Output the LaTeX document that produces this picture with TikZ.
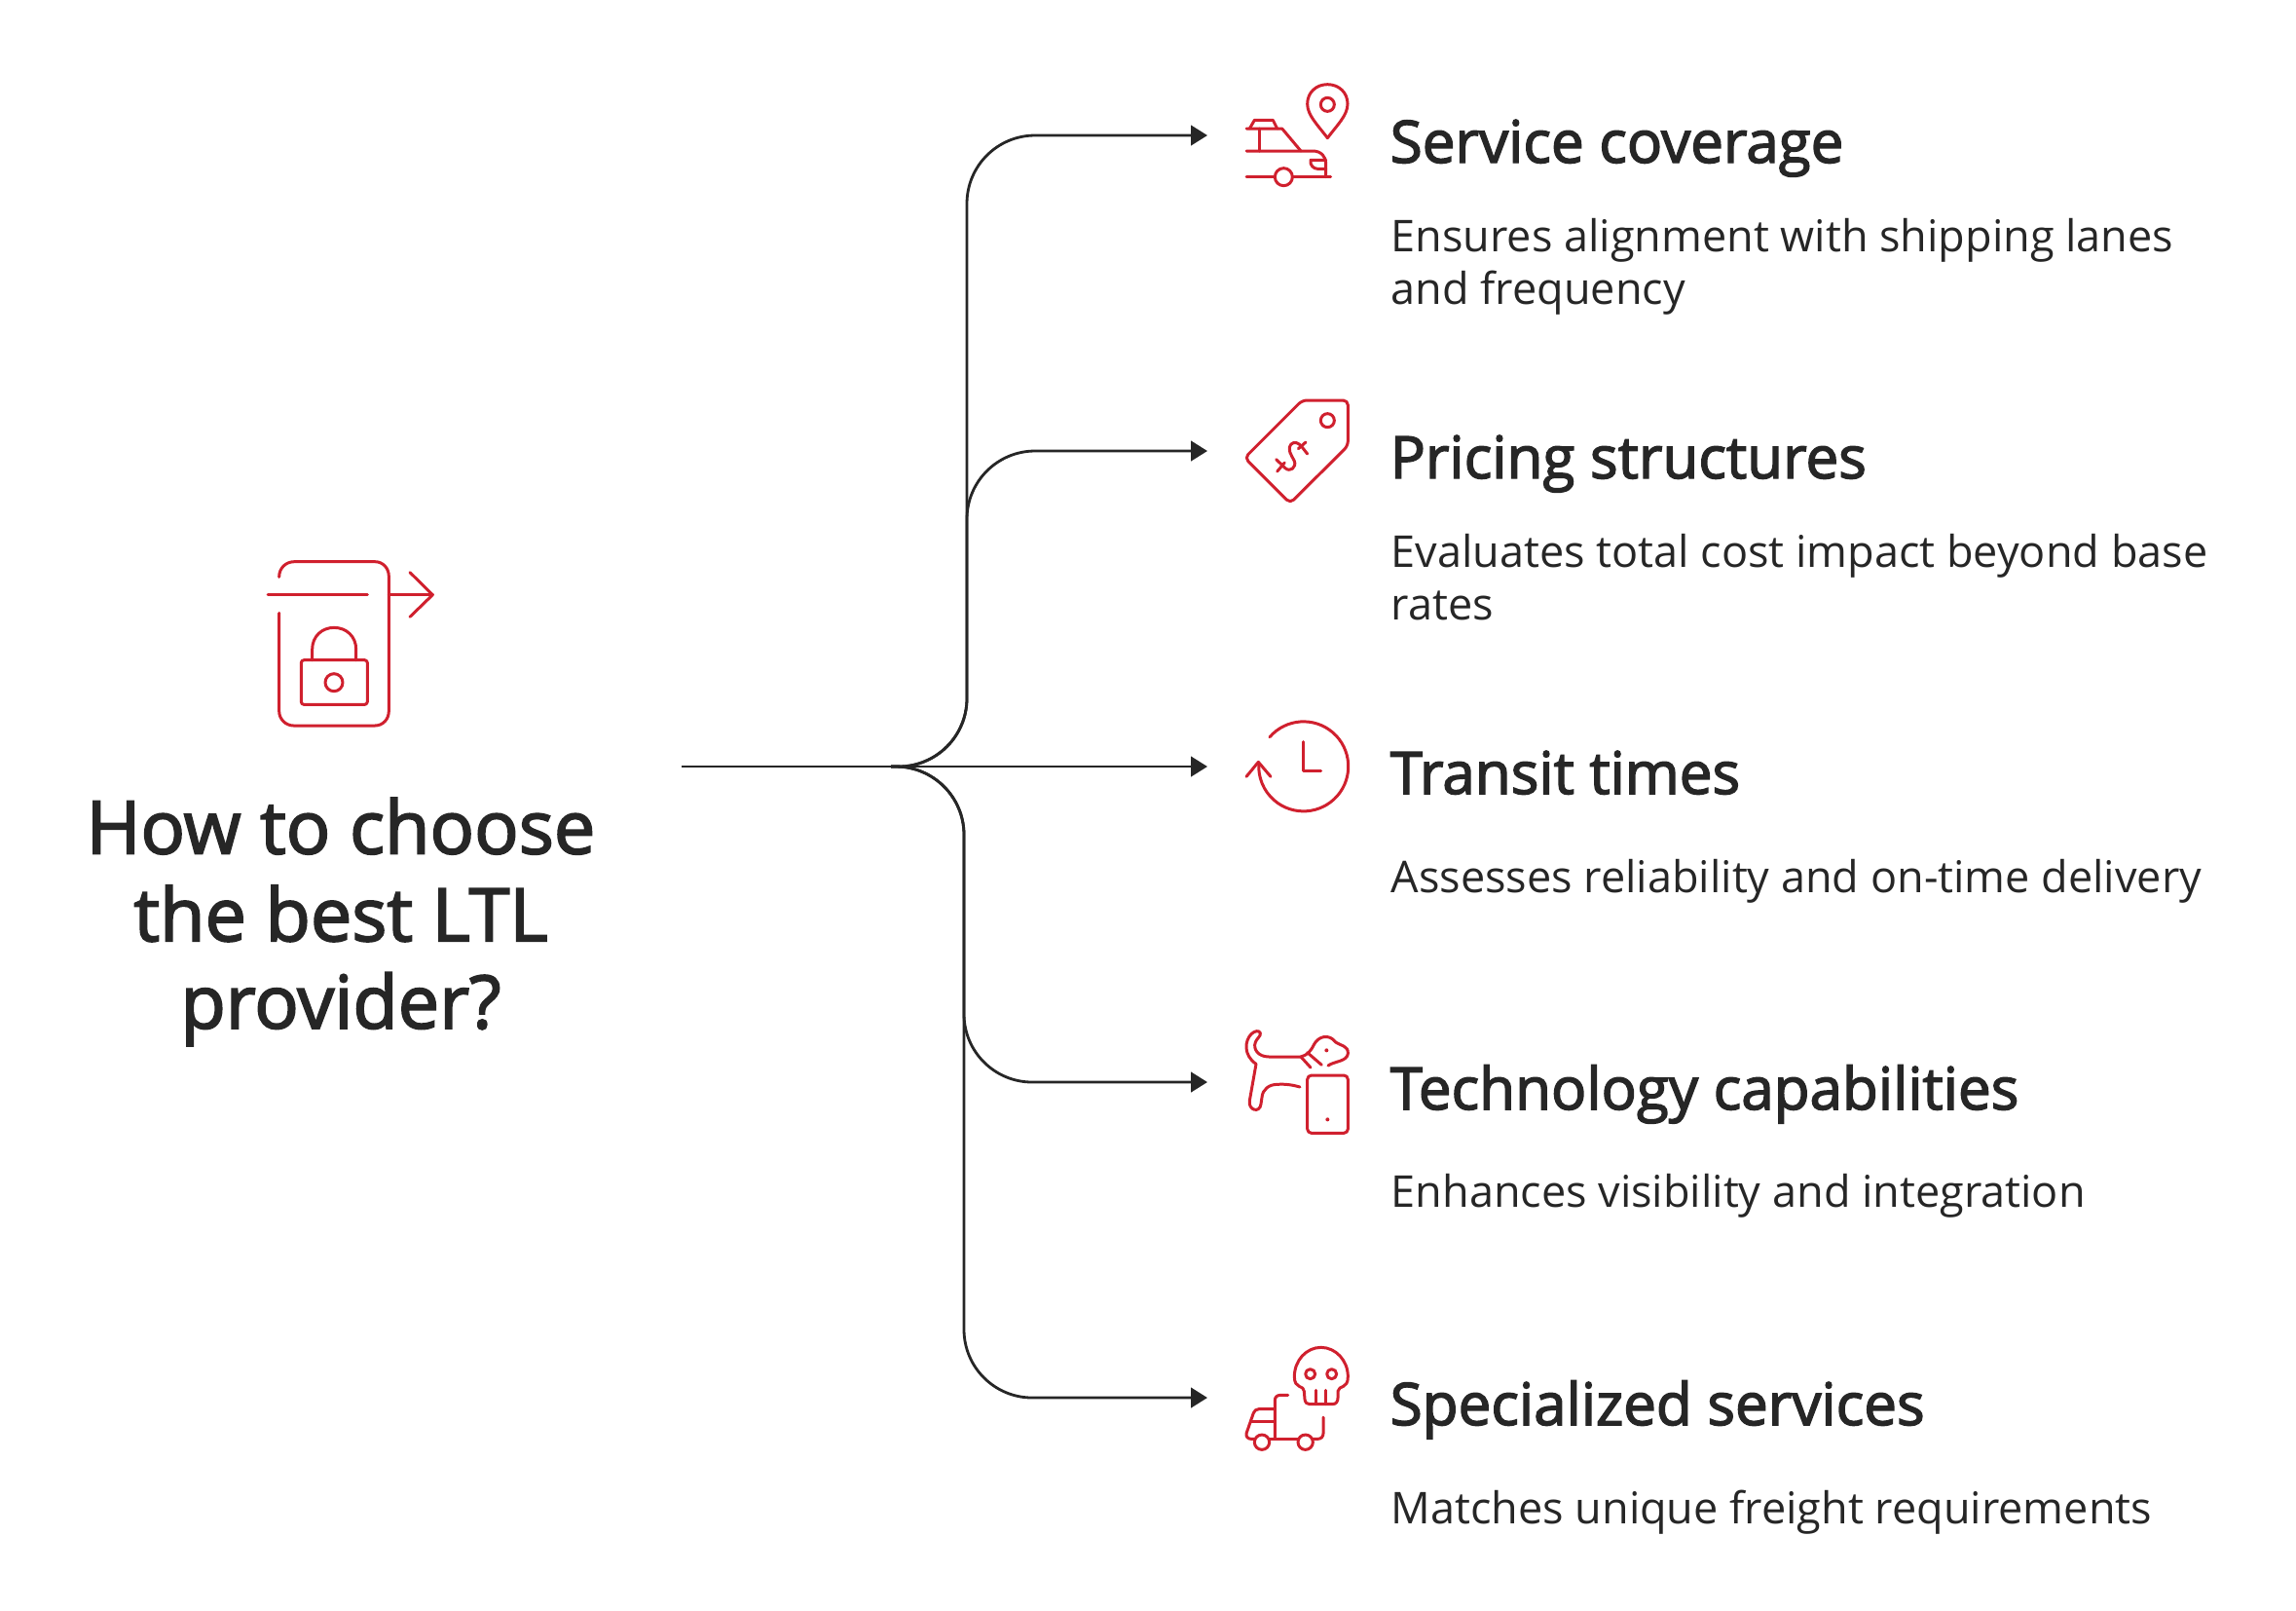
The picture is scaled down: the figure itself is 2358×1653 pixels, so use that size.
\documentclass[tikz,border=0pt]{standalone}
\usepackage{xcolor}
\usepackage{fontspec}
\setmainfont{Open Sans}
\newfontfamily\semifont[FakeBold=2.4]{Open Sans}
\usetikzlibrary{arrows.meta}
\definecolor{iconred}{HTML}{D0202E}
\definecolor{inkdark}{HTML}{262626}
\tikzset{
  link/.style={draw=inkdark, line width=0.8pt, rounded corners=0.7cm, -{Triangle[length=4.8pt,width=5.8pt]}},
  icon/.style={draw=iconred, line width=0.85pt, line cap=round, line join=round},
  titletext/.style={text=inkdark, font=\semifont\fontsize{21.5}{25.5}\selectfont, align=center, inner sep=0pt},
  headtext/.style={text=inkdark, font=\semifont\fontsize{17.1}{20}\selectfont, anchor=base west, inner sep=0pt},
  bodytext/.style={text=inkdark, font=\fontsize{12.8}{15.3}\selectfont, align=left, anchor=north west, inner sep=0pt},
  zoomed/.style={shift={#1}, scale=1/3}
}
\begin{document}
\begin{tikzpicture}[x=0.01cm,y=-0.01cm]
\useasboundingbox (0,0) rectangle (2358,1653);
\coordinate (start) at (700,787);
\coordinate (hub) at (915,787);
\coordinate (jointUp) at (993,787);
\coordinate (jointDown) at (990,787);
\coordinate (tipA) at (1240,139);
\coordinate (tipB) at (1240,463);
\coordinate (tipC) at (1240,787);
\coordinate (tipD) at (1240,1111);
\coordinate (tipE) at (1240,1435);
\draw[link] (hub) -- (jointUp) -- (jointUp |- tipA) -- (tipA);
\draw[link] (hub) -- (jointUp) -- (jointUp |- tipB) -- (tipB);
\draw[link] (start) -- (tipC);
\draw[link] (hub) -- (jointDown) -- (jointDown |- tipD) -- (tipD);
\draw[link] (hub) -- (jointDown) -- (jointDown |- tipE) -- (tipE);
\node[titletext] (title) at (350,946.5) {How to choose\\the best LTL\\provider?};
\node[headtext] (headA) at (1427,167) {Service coverage};
\node[bodytext] (bodyA) at (1428,224) {Ensures alignment with shipping lanes\\and frequency};
\node[headtext] (headB) at (1427,491) {Pricing structures};
\node[bodytext] (bodyB) at (1428,548) {Evaluates total cost impact beyond base\\rates};
\node[headtext] (headC) at (1427,815) {Transit times};
\node[bodytext] (bodyC) at (1428,881.5) {Assesses reliability and on-time delivery};
\node[headtext] (headD) at (1427,1139) {Technology capabilities};
\node[bodytext] (bodyD) at (1428,1205) {Enhances visibility and integration};
\node[headtext] (headE) at (1427,1463) {Specialized services};
\node[bodytext] (bodyE) at (1428,1529) {Matches unique freight requirements};
\begin{scope}[zoomed={(260,560)}]
\draw[icon] (80,97) .. controls (80,70) and (100,50) .. (127,50) -- (375,50) .. controls (400,50) and (418,70) .. (418,95) -- (418,510) .. controls (418,535) and (400,555) .. (375,555) -- (125,555) .. controls (100,555) and (80,535) .. (80,510) -- (80,208);
\draw[icon] (45,152) -- (352,152);
\draw[icon] (418,152) -- (553,152);
\draw[icon] (483,83) -- (553,152) -- (483,220);
\draw[icon,rounded corners=0.8pt] (148,353) rectangle (352,490);
\draw[icon] (182,353) -- (182,320) .. controls (182,280) and (212,253) .. (249,253) .. controls (287,253) and (317,280) .. (317,320) -- (317,353);
\draw[icon] (249,422) circle (27);
\end{scope}
\begin{scope}[zoomed={(1250,60)}]
\draw[icon] (340,245) .. controls (310,205) and (278,175) .. (278,140) .. controls (278,105) and (305,80) .. (340,80) .. controls (375,80) and (402,105) .. (402,140) .. controls (402,175) and (370,205) .. (340,245) -- cycle;
\draw[icon] (340,142) circle (21);
\draw[icon] (90,216) -- (200,216) -- (258,285);
\draw[icon] (100,216) -- (115,190) -- (172,190) -- (185,216);
\draw[icon] (130,216) -- (130,285);
\draw[icon] (90,285) -- (295,285) .. controls (322,285) and (335,305) .. (335,322) -- (335,365);
\draw[icon] (335,313) -- (288,313) .. controls (285,330) and (298,340) .. (310,340) -- (335,340);
\draw[icon] (90,365) -- (178,365);
\draw[icon] (232,365) -- (350,365);
\draw[icon] (205,365) circle (27);
\end{scope}
\begin{scope}[zoomed={(1250,390)}]
\draw[icon,rounded corners=1.4pt] (262,63) -- (403,63) -- (403,203) -- (225,380) -- (85,240) -- cycle;
\draw[icon] (340,125) circle (21);
\draw[icon] (182,245) -- (210,272) .. controls (225,285) and (245,270) .. (238,250) .. controls (228,230) and (215,215) .. (228,198) .. controls (238,188) and (252,195) .. (260,205) -- (278,228);
\draw[icon] (273,192) -- (250,212);
\draw[icon] (208,255) -- (185,282);
\end{scope}
\begin{scope}[zoomed={(1250,720)}]
\draw[icon] (162,110) arc[start angle=221,end angle=544,radius=138];
\draw[icon] (90,232) -- (127,187) -- (165,232);
\draw[icon] (264,125) -- (264,215) -- (320,215);
\end{scope}
\begin{scope}[zoomed={(1250,1040)}]
\draw[icon] (258,135) -- (160,135) .. controls (125,135) and (110,110) .. (118,90) .. controls (122,78) and (135,72) .. (133,62) .. controls (130,52) and (115,55) .. (105,65) .. controls (85,85) and (80,130) .. (120,157) -- (100,270) .. controls (95,300) and (132,310) .. (135,280) -- (138,260) .. controls (140,235) and (160,220) .. (185,220) .. controls (210,218) and (235,222) .. (255,228);
\draw[icon] (258,135) .. controls (278,130) and (290,115) .. (298,98) .. controls (310,72) and (345,62) .. (365,90) .. controls (378,100) and (405,100) .. (403,125) .. controls (400,150) and (362,148) .. (342,162);
\draw[icon] (258,135) -- (288,168);
\draw[icon] (278,122) -- (322,160);
\fill[iconred] (337,115) circle (6);
\draw[icon,rounded corners=1.2pt] (278,192) rectangle (403,370);
\fill[iconred] (340,328) circle (6);
\end{scope}
\begin{scope}[zoomed={(1250,1370)}]
\draw[icon] (285,215) -- (355,215) .. controls (368,215) and (372,205) .. (372,195) -- (372,175) .. controls (375,155) and (403,170) .. (403,130) .. controls (403,80) and (365,40) .. (320,40) .. controls (275,40) and (238,80) .. (238,130) .. controls (238,170) and (268,155) .. (268,175) -- (270,200) .. controls (272,210) and (276,215) .. (285,215) -- cycle;
\draw[icon] (287,122) circle (15);
\draw[icon] (353,122) circle (15);
\draw[icon] (305,172) -- (305,215);
\draw[icon] (335,172) -- (335,215);
\draw[icon] (218,187) -- (195,187) .. controls (185,187) and (178,193) .. (178,203) -- (178,322);
\draw[icon] (178,230) -- (128,230) .. controls (120,230) and (115,235) .. (112,242) -- (90,305) .. controls (88,315) and (95,322) .. (105,322) -- (115,322);
\draw[icon] (105,268) -- (178,268);
\draw[icon] (160,322) -- (250,322);
\draw[icon] (138,332) circle (23);
\draw[icon] (272,332) circle (23);
\draw[icon] (295,322) -- (310,322) .. controls (320,322) and (327,315) .. (327,305) -- (327,255);
\end{scope}
\end{tikzpicture}
\end{document}
